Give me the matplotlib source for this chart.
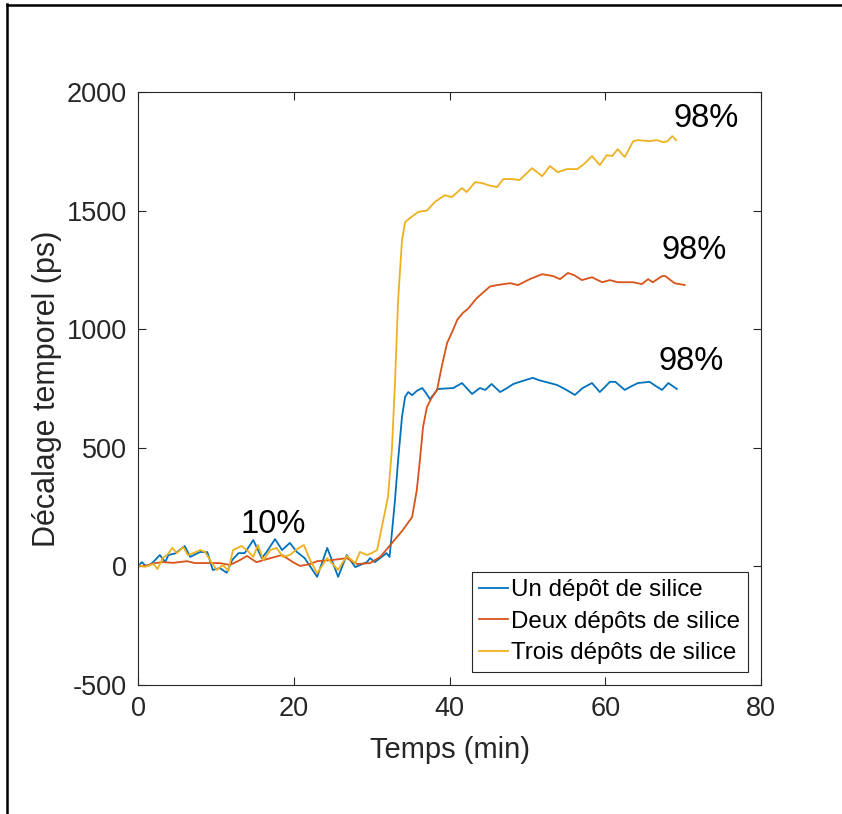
import matplotlib
matplotlib.use("Agg")
import matplotlib.pyplot as plt
from matplotlib.lines import Line2D

plt.rcParams['font.family'] = ['Liberation Sans', 'DejaVu Sans']
plt.rcParams['axes.unicode_minus'] = False

# Un dépôt de silice
t_un = [0, 0.5, 1.0, 1.5, 2.0, 2.8, 3.5, 3.9, 4.8, 6.0, 6.7, 7.3, 8.0, 8.9, 9.6,
        10.5, 11.4, 12.1, 12.9, 13.7, 14.8, 15.9, 16.5, 17.6, 18.5, 19.5, 20.4,
        21.4, 23.0, 24.3, 25.7, 26.8, 27.9, 29.4, 29.8, 30.4, 31.1, 31.9, 32.3,
        32.6, 33.0, 33.4, 33.9, 34.3, 34.7, 35.2, 35.8, 36.5, 37.0, 37.5, 38.5,
        39.5, 40.5, 41.6, 42.9, 43.9, 44.6, 45.4, 46.5, 47.3, 48.2, 49.4, 50.7,
        51.5, 52.3, 53.8, 54.8, 56.1, 57.1, 58.3, 59.3, 60.6, 61.3, 62.5, 63.4,
        64.2, 65.7, 66.5, 67.3, 68.1, 69.2]
v_un = [0, 18, 2, 5, 20, 48, 18, 48, 55, 86, 40, 50, 61, 60, -15,
        -7, -27, 27, 56, 56, 111, 35, 60, 115, 69, 99, 61,
        35, -44, 78, -44, 48, -3, 18, 35, 18, 35, 56, 40,
        140, 280, 448, 630, 715, 735, 722, 740, 752, 730, 705, 748,
        750, 752, 773, 727, 752, 744, 769, 735, 750, 769, 782, 795,
        785, 778, 765, 748, 723, 752, 773, 735, 778, 778, 744, 760,
        773, 778, 760, 744, 773, 748]

# Deux dépôts de silice
t_deux = [0, 1.0, 2.2, 3.2, 4.5, 6.3, 7.3, 8.8, 10.5, 11.8, 13.0, 14.0, 15.2,
          16.6, 18.5, 19.9, 20.8, 22.1, 23.0, 25.0, 26.8, 28.1, 29.8, 31.1,
          32.4, 34.0, 35.2, 35.8, 36.2, 36.6, 37.1, 37.7, 38.4, 39.0, 39.7,
          40.3, 41.0, 41.7, 42.4, 43.5, 44.5, 45.2, 46.1, 47.8, 48.8, 50.3,
          51.9, 53.3, 54.2, 55.2, 56.0, 57.0, 58.3, 59.6, 60.6, 61.6, 63.6,
          64.7, 65.5, 66.1, 67.3, 67.7, 68.9, 70.2]
v_deux = [0, 3, 14, 18, 15, 22, 14, 14, 14, 6, 25, 44, 18,
          31, 48, 18, 2, 10, 22, 27, 35, 10, 14, 40,
          90, 153, 208, 322, 448, 587, 672, 710, 744, 842, 943,
          985, 1040, 1068, 1087, 1131, 1160, 1180, 1186, 1194, 1186, 1211,
          1232, 1224, 1211, 1237, 1228, 1207, 1219, 1198, 1207, 1198, 1198,
          1190, 1211, 1198, 1224, 1224, 1194, 1186]

# Trois dépôts de silice
t_trois = [0, 0.9, 2.0, 2.5, 3.2, 3.8, 4.4, 5.0, 5.8, 6.4, 7.1, 8.0, 8.6, 9.5,
           10.1, 10.9, 11.6, 12.2, 13.3, 14.1, 14.8, 15.4, 16.1, 17.0, 17.8,
           18.6, 19.5, 20.3, 21.3, 22.1, 23.0, 24.3, 25.7, 26.8, 27.9, 28.5,
           29.4, 30.0, 30.7, 31.5, 32.1, 32.6, 33.0, 33.4, 33.9, 34.3, 34.9,
           36.0, 37.1, 38.1, 39.4, 40.3, 41.6, 42.2, 43.3, 44.2, 45.0, 46.1,
           46.9, 48.0, 49.0, 50.6, 51.9, 52.9, 53.9, 55.1, 56.4, 57.4, 58.3,
           59.3, 60.2, 60.9, 61.6, 62.5, 63.6, 64.2, 65.7, 66.6, 67.4, 68.0,
           68.6, 69.1]
v_trois = [5, -2, 10, -11, 36, 50, 78, 56, 82, 48, 56, 69, 61, 14,
           -15, 6, -19, 69, 86, 65, 40, 90, 27, 69, 78,
           40, 48, 70, 90, 27, -29, 35, -15, 44, 14, 61,
           48, 56, 69, 196, 293, 491, 773, 1123, 1375, 1451, 1468,
           1495, 1500, 1536, 1565, 1557, 1595, 1578, 1620, 1616, 1607, 1599,
           1633, 1633, 1629, 1679, 1645, 1688, 1662, 1675, 1675, 1700, 1730,
           1692, 1734, 1730, 1759, 1726, 1793, 1797, 1793, 1797, 1789, 1792,
           1814, 1797]

series_labels = ["Un dépôt de silice", "Deux dépôts de silice", "Trois dépôts de silice"]
series_colors = ["#0072BD", "#D95319", "#EDB120"]

# Annotations: (text, x, y)
annotations = [("10%", 17.3, 178), ("98%", 72.9, 1890), ("98%", 71.4, 1333), ("98%", 71.0, 862)]

x_ticks = [0, 20, 40, 60, 80]
y_ticks = [-500, 0, 500, 1000, 1500, 2000]

axis_color = "#262626"

fig = plt.figure(figsize=(8.42, 8.14), dpi=100)
ax = fig.add_axes([138 / 842, 1 - 685 / 814, (761 - 138) / 842, (685 - 92) / 814])

for t, v, lab, col in zip([t_un, t_deux, t_trois], [v_un, v_deux, v_trois],
                          series_labels, series_colors):
    ax.plot(t, v, color=col, lw=1.3, label=lab)

for txt, x, y in annotations:
    ax.text(x, y, txt, fontsize=23.5, ha="center", va="center", color="black")

ax.set_xlim(0, 80)
ax.set_ylim(-500, 2000)
ax.set_xticks(x_ticks)
ax.set_yticks(y_ticks)
ax.tick_params(direction="in", length=6, width=0.8, top=True, right=True,
               labelsize=19.5, colors=axis_color, pad=8)
for s in ax.spines.values():
    s.set_color(axis_color)
    s.set_linewidth(0.8)

ax.set_xlabel("Temps (min)", fontsize=21, color=axis_color, labelpad=10)
ax.set_ylabel("Décalage temporel (ps)", fontsize=22, color=axis_color, labelpad=3)

leg = ax.legend(loc="lower right", fontsize=17.4, frameon=True, fancybox=False,
                edgecolor=axis_color, framealpha=1, handlelength=1.2,
                handletextpad=0.15, borderpad=0.3, labelspacing=0.4,
                borderaxespad=0.55)
leg.get_frame().set_linewidth(0.8)

# Figure frame on the left and top edges
fig.add_artist(Line2D([7 / 842, 7 / 842], [0, 1 - 4 / 814], transform=fig.transFigure,
                      color="black", lw=1.8))
fig.add_artist(Line2D([7 / 842, 1], [1 - 5 / 814, 1 - 5 / 814], transform=fig.transFigure,
                      color="black", lw=1.8))

fig.savefig("out.png", dpi=100)
